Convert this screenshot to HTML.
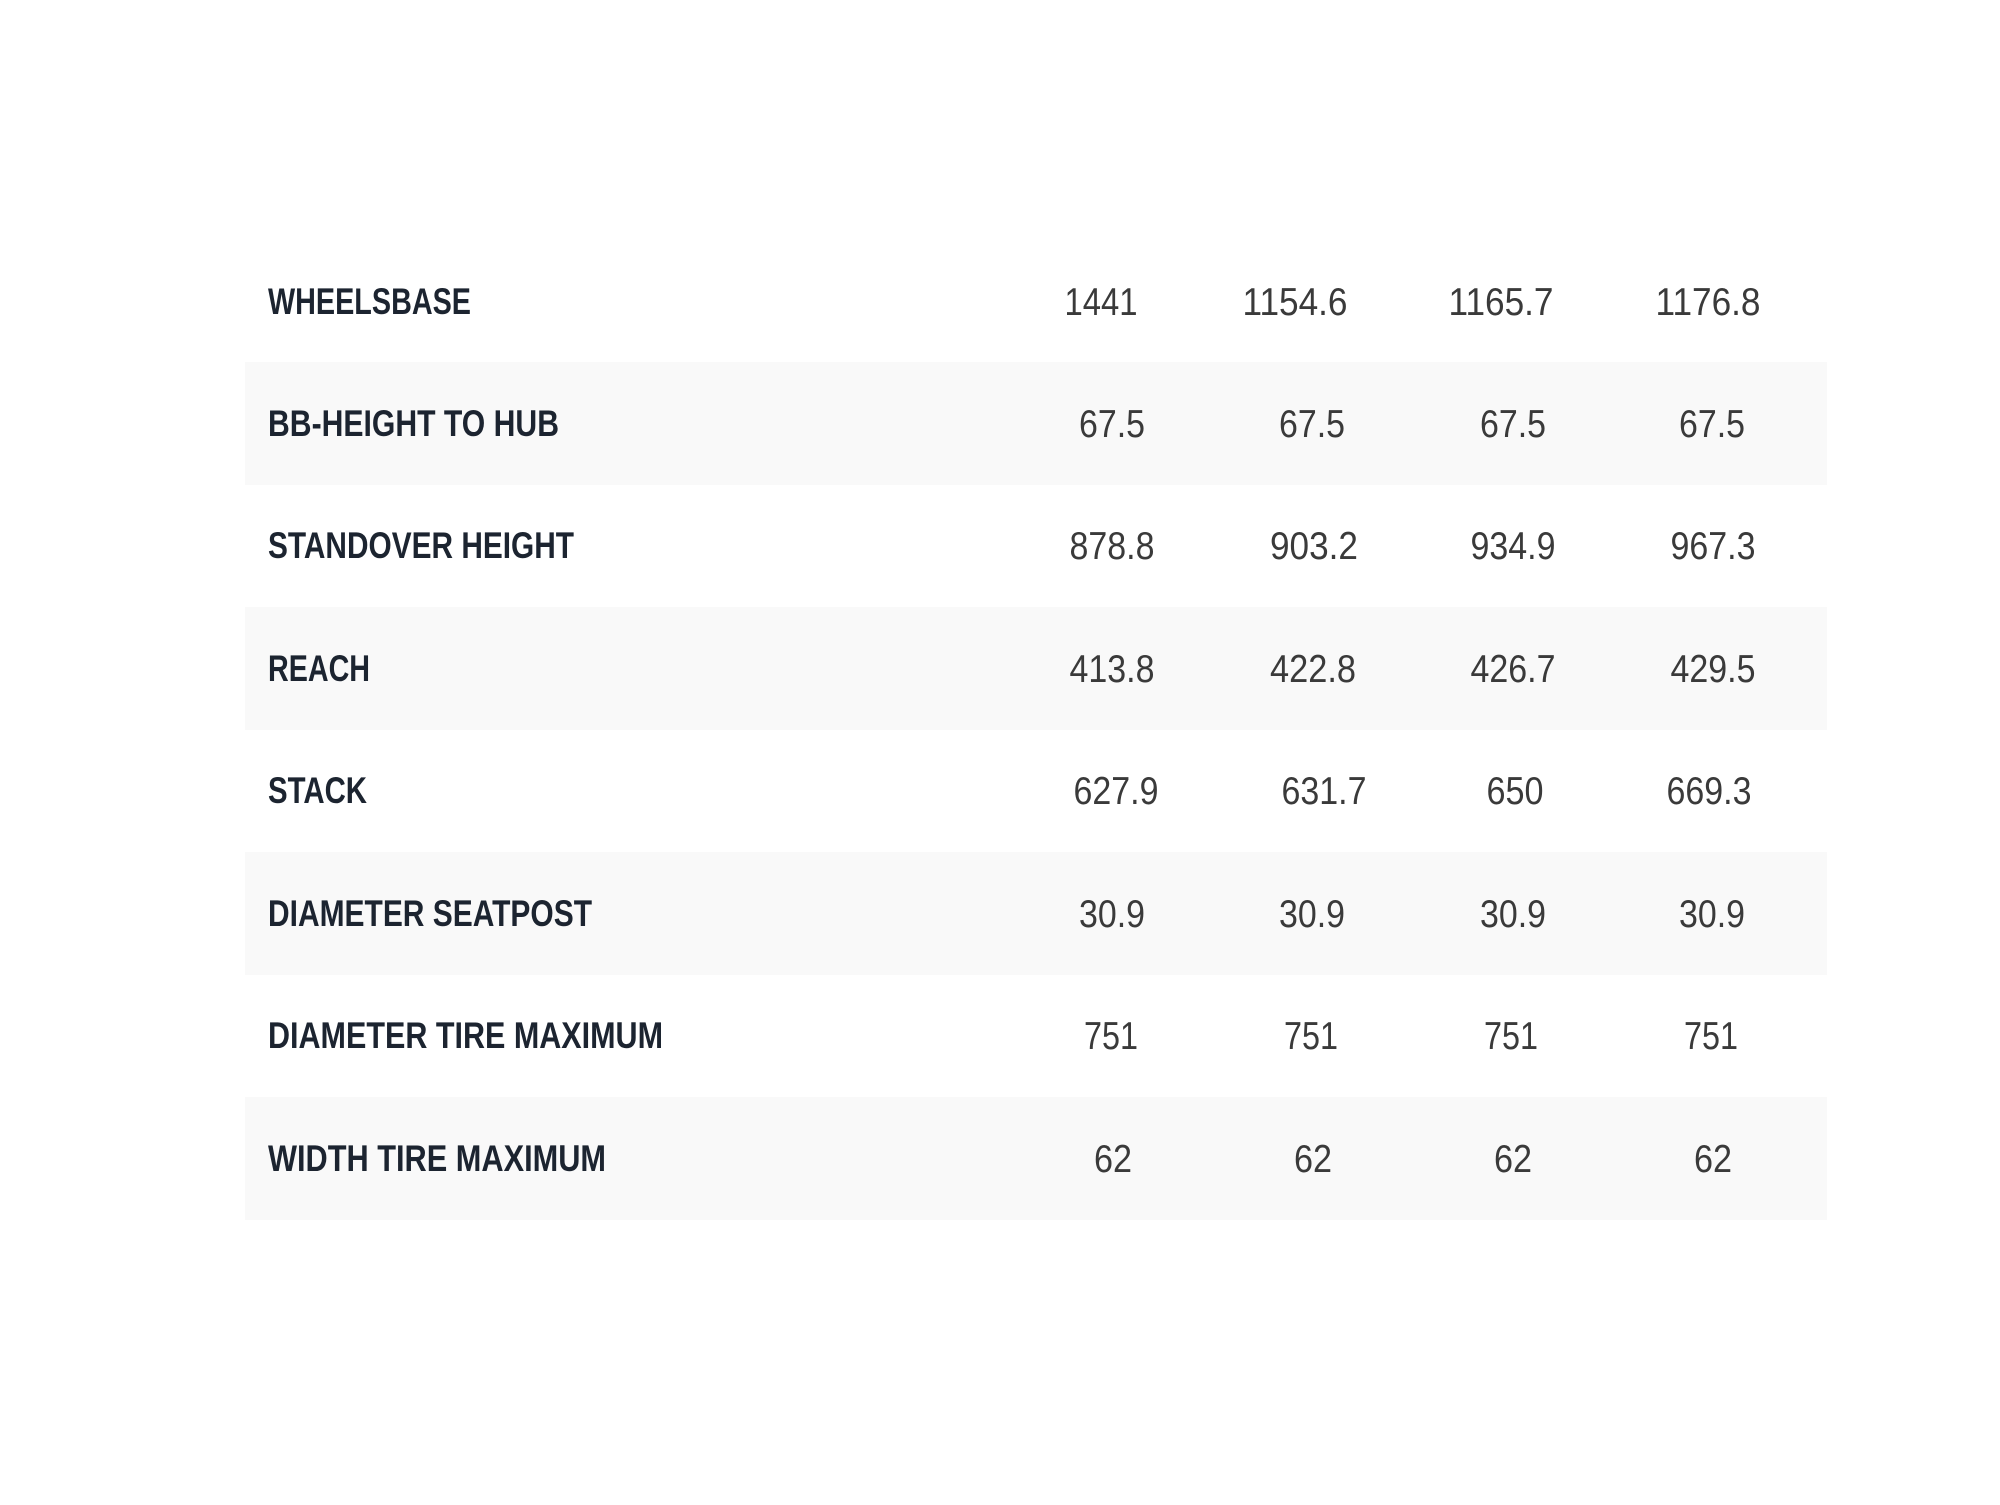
<!DOCTYPE html>
<html><head><style>html,body{margin:0;padding:0;background:#fff}</style></head>
<body>
<svg width="2000" height="1500" viewBox="0 0 2000 1500" xmlns="http://www.w3.org/2000/svg">
<rect width="2000" height="1500" fill="#fff"/>
<g fill="#f9f9f9">
<rect x="245" y="362" width="1582" height="123"/>
<rect x="245" y="607" width="1582" height="123"/>
<rect x="245" y="852" width="1582" height="123"/>
<rect x="245" y="1097" width="1582" height="123"/>
</g>
<g font-family="Liberation Sans, sans-serif" font-weight="bold" font-size="37" fill="#1c2430">
<text x="268" y="314" textLength="203" lengthAdjust="spacingAndGlyphs">WHEELSBASE</text>
<text x="268" y="436" textLength="291" lengthAdjust="spacingAndGlyphs">BB-HEIGHT TO HUB</text>
<text x="268" y="558" textLength="306" lengthAdjust="spacingAndGlyphs">STANDOVER HEIGHT</text>
<text x="268" y="681" textLength="102" lengthAdjust="spacingAndGlyphs">REACH</text>
<text x="268" y="803" textLength="99" lengthAdjust="spacingAndGlyphs">STACK</text>
<text x="268" y="926" textLength="324" lengthAdjust="spacingAndGlyphs">DIAMETER SEATPOST</text>
<text x="268" y="1048" textLength="395" lengthAdjust="spacingAndGlyphs">DIAMETER TIRE MAXIMUM</text>
<text x="268" y="1171" textLength="338" lengthAdjust="spacingAndGlyphs">WIDTH TIRE MAXIMUM</text>
</g>
<g font-family="Liberation Sans, sans-serif" font-size="39" fill="#3a3a3a" text-anchor="middle">
<text x="1101" y="315" textLength="73" lengthAdjust="spacingAndGlyphs">1441</text>
<text x="1295" y="315" textLength="105" lengthAdjust="spacingAndGlyphs">1154.6</text>
<text x="1501" y="315" textLength="105" lengthAdjust="spacingAndGlyphs">1165.7</text>
<text x="1708" y="315" textLength="105" lengthAdjust="spacingAndGlyphs">1176.8</text>

<text x="1112" y="437" textLength="66" lengthAdjust="spacingAndGlyphs">67.5</text>
<text x="1312" y="437" textLength="66" lengthAdjust="spacingAndGlyphs">67.5</text>
<text x="1513" y="437" textLength="66" lengthAdjust="spacingAndGlyphs">67.5</text>
<text x="1712" y="437" textLength="66" lengthAdjust="spacingAndGlyphs">67.5</text>

<text x="1112" y="559" textLength="85" lengthAdjust="spacingAndGlyphs">878.8</text>
<text x="1314" y="559" textLength="88" lengthAdjust="spacingAndGlyphs">903.2</text>
<text x="1513" y="559" textLength="85" lengthAdjust="spacingAndGlyphs">934.9</text>
<text x="1713" y="559" textLength="85" lengthAdjust="spacingAndGlyphs">967.3</text>

<text x="1112" y="682" textLength="85" lengthAdjust="spacingAndGlyphs">413.8</text>
<text x="1313" y="682" textLength="86" lengthAdjust="spacingAndGlyphs">422.8</text>
<text x="1513" y="682" textLength="85" lengthAdjust="spacingAndGlyphs">426.7</text>
<text x="1713" y="682" textLength="85" lengthAdjust="spacingAndGlyphs">429.5</text>

<text x="1116" y="804" textLength="85" lengthAdjust="spacingAndGlyphs">627.9</text>
<text x="1324" y="804" textLength="85" lengthAdjust="spacingAndGlyphs">631.7</text>
<text x="1515" y="804" textLength="57" lengthAdjust="spacingAndGlyphs">650</text>
<text x="1709" y="804" textLength="85" lengthAdjust="spacingAndGlyphs">669.3</text>

<text x="1112" y="927" textLength="66" lengthAdjust="spacingAndGlyphs">30.9</text>
<text x="1312" y="927" textLength="66" lengthAdjust="spacingAndGlyphs">30.9</text>
<text x="1513" y="927" textLength="66" lengthAdjust="spacingAndGlyphs">30.9</text>
<text x="1712" y="927" textLength="66" lengthAdjust="spacingAndGlyphs">30.9</text>

<text x="1111" y="1049" textLength="54" lengthAdjust="spacingAndGlyphs">751</text>
<text x="1311" y="1049" textLength="54" lengthAdjust="spacingAndGlyphs">751</text>
<text x="1511" y="1049" textLength="54" lengthAdjust="spacingAndGlyphs">751</text>
<text x="1711" y="1049" textLength="54" lengthAdjust="spacingAndGlyphs">751</text>

<text x="1113" y="1172" textLength="38" lengthAdjust="spacingAndGlyphs">62</text>
<text x="1313" y="1172" textLength="38" lengthAdjust="spacingAndGlyphs">62</text>
<text x="1513" y="1172" textLength="38" lengthAdjust="spacingAndGlyphs">62</text>
<text x="1713" y="1172" textLength="38" lengthAdjust="spacingAndGlyphs">62</text>
</g>
</svg>
</body></html>
